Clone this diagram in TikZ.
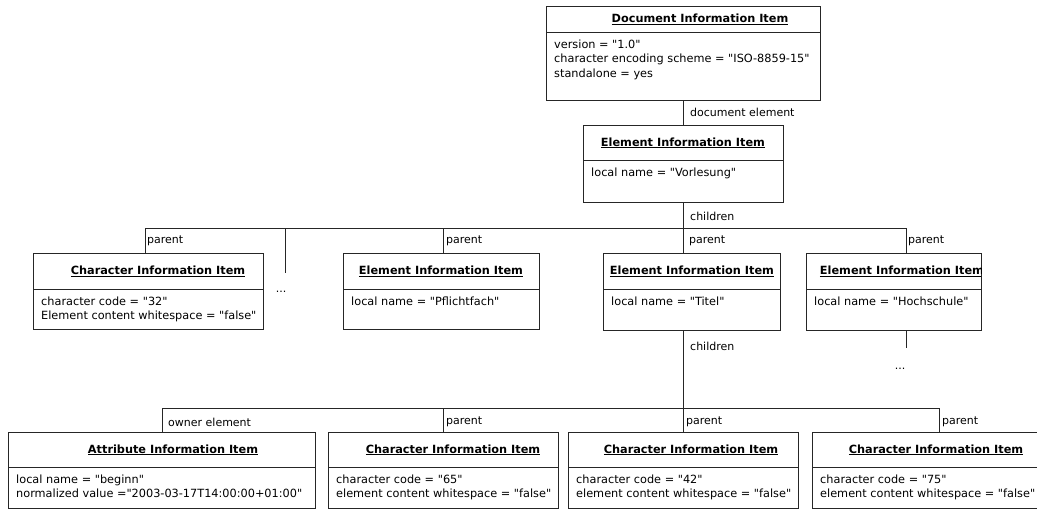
\documentclass[tikz,border=0pt]{standalone}
\usepackage{fontspec}
\setmainfont{DejaVu Sans}[Ligatures=TeXOff]
\usetikzlibrary{calc}

\tikzset{
  umlbox/.style={draw=black!85, line width=0.8pt, anchor=north west, inner sep=0pt, outer sep=0pt, fill=white},
  umlline/.style={draw=black!85, line width=0.8pt},
  titletext/.style={anchor=base, inner sep=0pt, font=\fontsize{11.3}{13}\selectfont\bfseries},
  bodytext/.style={anchor=north west, inner sep=0pt, align=left, font=\fontsize{11.3}{14.5}\selectfont},
  lbl/.style={anchor=west, inner sep=0pt, font=\fontsize{11}{13}\selectfont},
  dots/.style={inner sep=0pt, font=\fontsize{11}{13}\selectfont}
}

% #1 name, #2 x1, #3 y1, #4 x2, #5 y2, #6 separator y, #7 title centre x, #8 title, #9 attributes
\newcommand\infobox[9]{%
  \node[umlbox, minimum width={#4-#2}, minimum height={#5-#3}] (#1) at (#2,#3) {};
  \draw[umlline] (#2,#6) -- (#4,#6);
  \begin{scope}
    \clip (#2,#3) rectangle (#4,#5);
    \node[titletext] (#1-title) at (#7,{(#3+#6)/2+3.5}) {\underline{#8}};
    \node[bodytext] (#1-body) at ({#2+8},{#6+7.5}) {#9};
  \end{scope}}

\begin{document}
\begin{tikzpicture}[x=1pt,y=-1pt]
\useasboundingbox (0,0) rectangle (1037,509);
\clip (0,0) rectangle (1037,509);

% ---- info items ----
\infobox{doc}{546}{6}{820}{100}{32}{700}{Document Information Item}
  {version = "1.0"\\character encoding scheme = "ISO-8859-15"\\standalone = yes}
\infobox{vorl}{583}{125}{783}{202}{160}{683}{Element Information Item}
  {local name = "Vorlesung"}

\infobox{char32}{33}{253}{263}{329}{289}{158}{Character Information Item}
  {character code = "32"\\Element content whitespace = "false"}
\infobox{pflicht}{343}{253}{539}{329}{289}{441}{Element Information Item}
  {local name = "Pflichtfach"}
\infobox{titel}{603}{253}{780}{330}{289}{692}{Element Information Item}
  {local name = "Titel"}
\infobox{hoch}{806}{253}{981}{330}{289}{902}{Element Information Item}
  {local name = "Hochschule"}

\infobox{attr}{8}{432}{315}{508}{467}{173}{Attribute Information Item}
  {local name = "beginn"\\normalized value ="2003-03-17T14:00:00+01:00"}
\infobox{c65}{328}{432}{558}{508}{467}{453}{Character Information Item}
  {character code = "65"\\element content whitespace = "false"}
\infobox{c42}{568}{432}{798}{508}{467}{691}{Character Information Item}
  {character code = "42"\\element content whitespace = "false"}
\infobox{c75}{812}{432}{1045}{508}{467}{936}{Character Information Item}
  {character code = "75"\\element content whitespace = "false"}

% ---- junctions of the connector buses ----
\coordinate (tb)  at (683,228);
\coordinate (tbL) at (145,228);
\coordinate (tbR) at (906,228);
\coordinate (stub) at (285,273);
\coordinate (hstub) at (906,348);
\coordinate (bb)  at (683,408);
\coordinate (bbL) at (162,408);
\coordinate (bbR) at (939,408);

% ---- connectors ----
\draw[umlline] (doc.south) -- (vorl.north);
\draw[umlline] (vorl.south) -- (tb);
\draw[umlline] (tbL) -- (tbR);
\draw[umlline] (tbL) -- (tbL |- char32.north);
\draw[umlline] (stub |- tb) -- (stub);
\draw[umlline] (tb -| 443,0) -- (pflicht.north -| 443,0);
\draw[umlline] (tb) -- (tb |- titel.north);
\draw[umlline] (tbR) -- (tbR |- hoch.north);
\draw[umlline] (hoch.south -| hstub) -- (hstub);

\draw[umlline] (titel.south -| bb) -- (bb);
\draw[umlline] (bbL) -- (bbR);
\draw[umlline] (bbL) -- (bbL |- attr.north);
\draw[umlline] (bb -| 443,0) -- (c65.north -| 443,0);
\draw[umlline] (bb) -- (bb |- c42.north);
\draw[umlline] (bbR) -- (bbR |- c75.north);

% ---- role labels ----
\node[lbl] (l-docel) at (690,112) {document element};
\node[lbl] (l-ch1)   at (690,216) {children};
\node[lbl] (l-p1)    at (147,241) {parent};
\node[lbl] (l-p2)    at (446,241) {parent};
\node[lbl] (l-p3)    at (689,241) {parent};
\node[lbl] (l-p4)    at (908,241) {parent};
\node[lbl] (l-ch2)   at (690,346) {children};
\node[lbl] (l-own)   at (168,422) {owner element};
\node[lbl] (l-p5)    at (446,422) {parent};
\node[lbl] (l-p6)    at (686,422) {parent};
\node[lbl] (l-p7)    at (942,422) {parent};

\node[dots] (dots1) at (281,292) {...};
\node[dots] (dots2) at (900,369) {...};
\end{tikzpicture}
\end{document}
